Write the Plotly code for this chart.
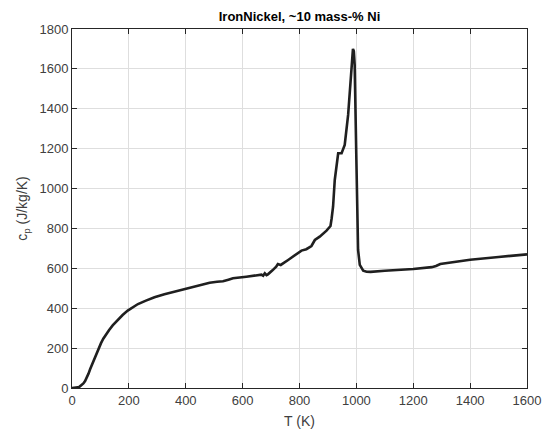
import plotly.graph_objects as go

# Temperature (K) and specific heat capacity (J/kg/K)
temperature_K = [0, 10, 20, 27, 34, 40, 46, 52, 58, 64, 70, 78, 86, 94, 102, 110, 120, 130, 143,
                 161, 178, 196, 214, 232, 260, 290, 325, 361, 396, 437, 484, 510, 531, 550, 566,
                 613, 666, 672, 678, 684, 689, 705, 718, 724, 734, 760, 795, 801, 807, 824, 830,
                 842, 854, 871, 895, 909, 913, 918, 924, 932, 936, 948, 959, 971, 983, 988, 991,
                 994, 1000, 1006, 1012, 1018, 1024, 1036, 1050, 1100, 1150, 1200, 1265, 1280,
                 1295, 1350, 1400, 1500, 1600]
cp_J_per_kgK = [0, 1, 3, 7, 14, 23, 35, 52, 72, 95, 117, 146, 175, 201, 225, 247, 270, 290, 314,
                341, 366, 388, 405, 421, 438, 455, 470, 483, 495, 508, 528, 533, 535, 543, 550,
                558, 568, 563, 575, 566, 570, 590, 608, 622, 617, 642, 679, 683, 689, 696, 701,
                712, 742, 759, 789, 812, 850, 909, 1043, 1143, 1177, 1177, 1219, 1369, 1603, 1700,
                1690, 1620, 1143, 692, 617, 598, 588, 583, 582, 588, 592, 597, 606, 612, 622, 633,
                643, 657, 670]

x_ticks = [0, 200, 400, 600, 800, 1000, 1200, 1400, 1600]
y_ticks = [0, 200, 400, 600, 800, 1000, 1200, 1400, 1600, 1800]

axis_color = "#262626"
grid_color = "#dedede"
font_family = "Liberation Sans, Arial, Helvetica, sans-serif"

fig = go.Figure()
fig.add_trace(go.Scatter(
    x=temperature_K, y=cp_J_per_kgK, mode="lines",
    line=dict(color="#1f1f1f", width=2.6),
    showlegend=False, hoverinfo="skip"))

fig.update_layout(
    width=542, height=429,
    margin=dict(l=72, r=15, t=29, b=41, autoexpand=False),
    paper_bgcolor="white", plot_bgcolor="white",
    font=dict(family=font_family, size=13, color=axis_color),
    title=dict(text="<b>IronNickel, ~10 mass-% Ni</b>", x=0.5, xref="paper",
               xanchor="center", y=1, yref="container", yanchor="top",
               pad=dict(t=12), font=dict(size=13, color="#000000")),
)

fig.update_xaxes(
    range=[0, 1600], tickvals=x_ticks, ticktext=[str(v) for v in x_ticks],
    automargin=False,
    showline=True, linecolor=axis_color, linewidth=1, mirror="allticks",
    ticks="inside", ticklen=5, tickcolor=axis_color, tickwidth=1,
    showgrid=True, gridcolor=grid_color, gridwidth=1, zeroline=False,
    tickfont=dict(size=13, color="#404040"),
    title=dict(text="T (K)", font=dict(size=14, color="#404040"), standoff=9),
)
fig.update_yaxes(
    range=[0, 1800], tickvals=y_ticks, ticktext=[str(v) for v in y_ticks],
    automargin=False,
    showline=True, linecolor=axis_color, linewidth=1, mirror="allticks",
    ticks="inside", ticklen=5, tickcolor=axis_color, tickwidth=1,
    showgrid=True, gridcolor=grid_color, gridwidth=1, zeroline=False,
    tickfont=dict(size=13, color="#404040"),
    title=dict(text="c<sub>p</sub> (J/kg/K)", font=dict(size=14, color="#404040"), standoff=8),
)

fig.write_html("out.html")
